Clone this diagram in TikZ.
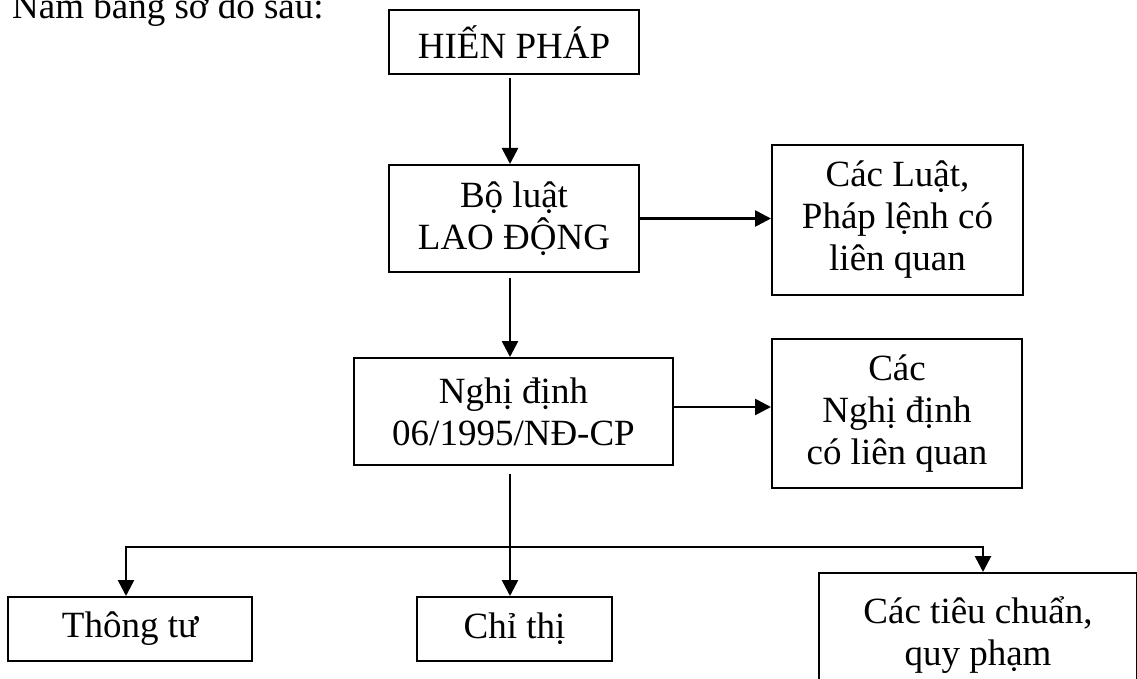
\documentclass[tikz,border=0pt]{standalone}
\usepackage{fontspec}
\setmainfont{Liberation Serif}
\usetikzlibrary{arrows.meta}
\tikzset{
  boxnode/.style={draw=black, line width=2pt, inner sep=0pt, align=center,
    font=\fontsize{37}{42}\selectfont},
  arr/.style={line width=2.6pt, -{Triangle[length=16pt,width=16pt]}},
  titletext/.style={font=\fontsize{37}{42}\selectfont, inner sep=0pt, anchor=base west}
}
\begin{document}
\begin{tikzpicture}[x=1pt,y=-1pt]
\useasboundingbox (0,0) rectangle (1137,679);
\clip (0,0) rectangle (1137,679);
\node[titletext] (title) at (12,19) {Nắm bảng sơ đồ sau:};
\node[boxnode, minimum width=250pt, minimum height=64pt] (hp) at (514,42) {HIẾN PHÁP};
\node[boxnode, minimum width=250pt, minimum height=107pt] (bl) at (514,218.5) {Bộ luật\\LAO ĐỘNG};
\node[boxnode, minimum width=251pt, minimum height=150pt] (cl) at (897.5,220) {Các Luật,\\Pháp lệnh có\\liên quan};
\node[boxnode, minimum width=319pt, minimum height=107pt] (nd) at (513.5,411.5) {Nghị định\\06/1995/NĐ-CP};
\node[boxnode, minimum width=250pt, minimum height=149pt] (cn) at (897,413.5) {Các\\Nghị định\\có liên quan};
\node[boxnode, minimum width=244pt, minimum height=64pt] (tt) at (130,629) {Thông tư};
\node[boxnode, minimum width=195pt, minimum height=64pt] (ct) at (514.5,629) {Chỉ thị};
\node[boxnode, minimum width=318pt, minimum height=125pt] (tc) at (978,635.5) {Các tiêu chuẩn,\\quy phạm};
\coordinate (j) at (510,547);
\coordinate (jl) at (126,547);
\coordinate (jr) at (983,547);
\draw[arr] ([yshift=-3pt]hp.south -| j) -- (bl.north -| j);
\draw[arr] (bl.east) -- (bl.east -| cl.west);
\draw[arr] ([yshift=-5pt]bl.south -| j) -- (nd.north -| j);
\draw[arr] ([yshift=4.5pt]nd.east) -- ([yshift=4.5pt]nd.east -| cn.west);
\draw[arr] ([yshift=-8pt]nd.south -| j) -- (ct.north -| j);
\draw[arr] (j) -| (jl |- tt.north);
\draw[arr] (j) -| (jr |- tc.north);
\end{tikzpicture}
\end{document}
